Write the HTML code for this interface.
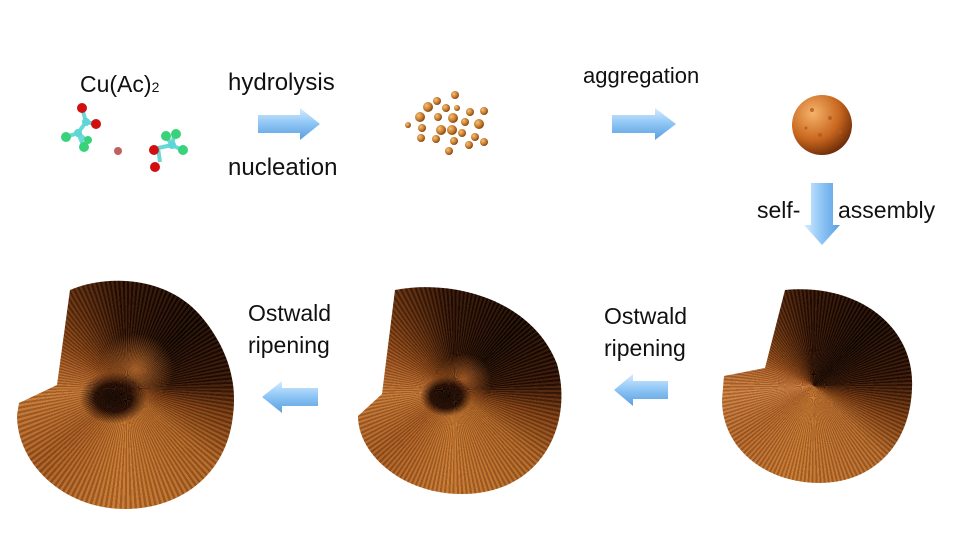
<!DOCTYPE html>
<html><head><meta charset="utf-8"><style>
body{margin:0;width:960px;height:547px;background:#fff;position:relative;overflow:hidden;font-family:"Liberation Sans",sans-serif;}
.t{position:absolute;font-size:23px;color:#111;line-height:1;white-space:nowrap}
.sp{position:absolute;}
.sp .tex{position:absolute;inset:0;}
</style></head><body>
<div class="t" style="left:80px;top:73px">Cu(Ac)<span style="font-size:14px">2</span></div>
<div class="t" style="left:228px;top:71px;font-size:24px">hydrolysis</div>
<div class="t" style="left:228px;top:156px;font-size:24px">nucleation</div>
<div class="t" style="left:583px;top:65px;font-size:22px">aggregation</div>
<div class="t" style="left:757px;top:199px">self-</div>
<div class="t" style="left:838px;top:199px">assembly</div>
<div class="t" style="left:604px;top:305px">Ostwald</div>
<div class="t" style="left:604px;top:337px">ripening</div>
<div class="t" style="left:248px;top:302px">Ostwald</div>
<div class="t" style="left:248px;top:334px">ripening</div>

<svg width="960" height="547" style="position:absolute;left:0;top:0">
<defs>
<linearGradient id="ar" x1="0" y1="0" x2="0" y2="1"><stop offset="0" stop-color="#d6ecff"/><stop offset=".5" stop-color="#8cc4f4"/><stop offset="1" stop-color="#5a9ee0"/></linearGradient>
<linearGradient id="ad" x1="0" y1="0" x2="1" y2="0"><stop offset="0" stop-color="#d6ecff"/><stop offset=".5" stop-color="#8cc4f4"/><stop offset="1" stop-color="#5a9ee0"/></linearGradient>
<radialGradient id="cu" cx=".35" cy=".35" r=".7"><stop offset="0" stop-color="#f3c27a"/><stop offset=".6" stop-color="#c87a2a"/><stop offset="1" stop-color="#7a3f10"/></radialGradient>
<radialGradient id="sph" cx=".35" cy=".3" r=".75"><stop offset="0" stop-color="#f5b36a"/><stop offset=".6" stop-color="#c8661e"/><stop offset="1" stop-color="#6a2a08"/></radialGradient>
</defs>
<polygon points="258,115 300,115 300,108 320,124 300,140 300,133 258,133" fill="url(#ar)"/>
<polygon points="612,115 655,115 655,108 676,124 655,140 655,133 612,133" fill="url(#ar)"/>
<polygon points="811,183 833,183 833,225 840,225 822,245 804,225 811,225" fill="url(#ad)"/>
<polygon points="668,381 633,381 633,374 614,390 633,406 633,399 668,399" fill="url(#ar)"/>
<polygon points="318,388 282,388 282,381 262,397 282,413 282,406 318,406" fill="url(#ar)"/>
<g stroke="#6ad8d8" stroke-width="4">
<line x1="82" y1="108" x2="86" y2="122"/><line x1="86" y1="122" x2="96" y2="124"/><line x1="86" y1="122" x2="78" y2="133"/><line x1="78" y1="133" x2="66" y2="137"/><line x1="78" y1="133" x2="84" y2="147"/><line x1="78" y1="133" x2="86" y2="140"/>
<line x1="158" y1="148" x2="160" y2="162"/><line x1="158" y1="148" x2="172" y2="145"/><line x1="172" y1="145" x2="166" y2="136"/><line x1="172" y1="145" x2="182" y2="150"/><line x1="172" y1="145" x2="174" y2="136"/>
</g>
<circle cx="82" cy="108" r="5" fill="#d01010"/><circle cx="96" cy="124" r="5" fill="#d01010"/>
<circle cx="86" cy="122" r="4" fill="#5fd6d6"/><circle cx="78" cy="133" r="4" fill="#5fd6d6"/>
<circle cx="66" cy="137" r="5" fill="#38d27a"/><circle cx="84" cy="147" r="5" fill="#38d27a"/><circle cx="88" cy="140" r="4" fill="#38d27a"/>
<circle cx="118" cy="151" r="4" fill="#c06060"/>
<circle cx="154" cy="150" r="5" fill="#d01010"/><circle cx="155" cy="167" r="5" fill="#d01010"/>
<circle cx="172" cy="145" r="4" fill="#5fd6d6"/><circle cx="166" cy="136" r="5" fill="#38d27a"/><circle cx="176" cy="134" r="5" fill="#38d27a"/><circle cx="183" cy="150" r="5" fill="#38d27a"/>
<g fill="url(#cu)">
<circle cx="437" cy="101" r="4"/><circle cx="455" cy="95" r="4"/><circle cx="428" cy="107" r="5"/><circle cx="446" cy="108" r="4"/><circle cx="470" cy="112" r="4"/><circle cx="484" cy="111" r="4"/>
<circle cx="420" cy="117" r="5"/><circle cx="438" cy="117" r="4"/><circle cx="453" cy="118" r="5"/><circle cx="465" cy="122" r="4"/><circle cx="479" cy="124" r="5"/>
<circle cx="408" cy="125" r="3"/><circle cx="422" cy="128" r="4"/><circle cx="441" cy="130" r="5"/><circle cx="452" cy="130" r="5"/><circle cx="462" cy="133" r="4"/><circle cx="475" cy="137" r="4"/>
<circle cx="421" cy="138" r="4"/><circle cx="436" cy="139" r="4"/><circle cx="454" cy="141" r="4"/><circle cx="469" cy="145" r="4"/><circle cx="484" cy="142" r="4"/>
<circle cx="449" cy="151" r="4"/><circle cx="457" cy="108" r="3"/>
</g>
<circle cx="822" cy="125" r="30" fill="url(#sph)"/>
<g fill="#b05a20" opacity=".8"><circle cx="812" cy="110" r="2"/><circle cx="830" cy="118" r="2"/><circle cx="820" cy="135" r="2"/><circle cx="840" cy="132" r="2"/><circle cx="806" cy="128" r="1.5"/></g>
</svg>

<div class="sp" style="left:720px;top:288px;width:195px;height:196px;clip-path:path('M65,2 C140,-5 195,40 192,100 C190,160 150,195 100,195 C45,195 2,160 2,112 L4,88 L45,80 Z');background:
conic-gradient(from -55deg at 48% 50%,#8a4414 0deg,#2a0e02 50deg,#120400 100deg,#2a0e02 140deg,#7a3a10 165deg,#b86a2a 190deg,#c8762e 250deg,#b8682a 290deg,#d08040 320deg,#b06028 345deg,#8a4414 360deg)">
<div class="tex" style="background:repeating-conic-gradient(from 0deg at 48% 50%,rgba(0,0,0,.2) 0 1.2deg,rgba(255,190,120,.1) 1.2deg 2.4deg)"></div></div>
<div class="sp" style="left:352px;top:284px;width:214px;height:212px;clip-path:path('M43,6 C100,-5 180,15 205,80 C222,140 190,210 110,210 C50,210 6,170 6,132 L30,110 Z');background:
radial-gradient(ellipse 26px 20px at 44% 53%,#100400 0,#200800 60%,rgba(0,0,0,0) 100%),
radial-gradient(ellipse 28px 26px at 52% 45%,#a85a22 0,rgba(160,80,30,0) 100%),
conic-gradient(from -55deg at 48% 50%,#8a4414 0deg,#2a0e02 50deg,#120400 100deg,#2a0e02 140deg,#7a3a10 160deg,#b06424 185deg,#c8762e 240deg,#a85a20 285deg,#c87834 320deg,#a85a24 345deg,#8a4414 360deg)">
<div class="tex" style="background:repeating-conic-gradient(from 0deg at 48% 50%,rgba(0,0,0,.2) 0 1.2deg,rgba(255,190,120,.1) 1.2deg 2.4deg)"></div></div>
<div class="sp" style="left:15px;top:275px;width:224px;height:236px;clip-path:path('M55,15 C90,0 150,0 185,40 C215,75 222,110 218,140 C212,200 165,234 110,234 C50,234 2,190 2,140 L4,128 L42,110 Z');background:
radial-gradient(ellipse 34px 26px at 44% 52%,#0c0300 0,#200800 55%,rgba(0,0,0,0) 100%),
radial-gradient(ellipse 38px 36px at 54% 40%,#b46428 0,rgba(160,80,30,0) 100%),
conic-gradient(from -55deg at 50% 48%,#8a4414 0deg,#2a0e02 50deg,#120400 100deg,#2a0e02 140deg,#7a3a10 160deg,#b06424 185deg,#c8762e 240deg,#a85a20 285deg,#c87834 320deg,#a85a24 345deg,#8a4414 360deg)">
<div class="tex" style="background:repeating-conic-gradient(from 0deg at 50% 48%,rgba(0,0,0,.2) 0 1.2deg,rgba(255,190,120,.1) 1.2deg 2.4deg)"></div></div>
</body></html>
